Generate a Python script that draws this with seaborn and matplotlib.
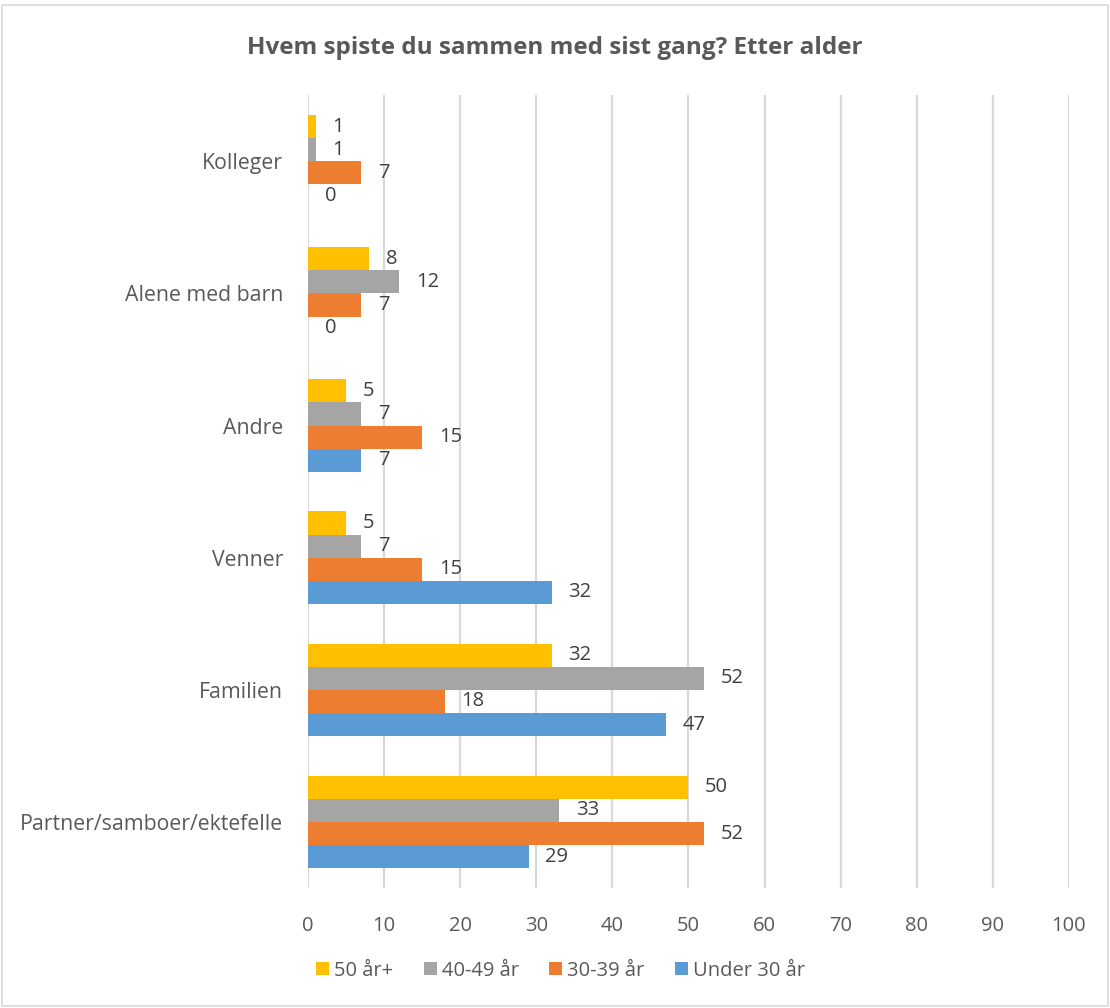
import matplotlib
matplotlib.use("Agg")
import matplotlib.pyplot as plt
from matplotlib.patches import Rectangle
import seaborn as sns
import pandas as pd

categories = ["Kolleger", "Alene med barn", "Andre", "Venner", "Familien",
              "Partner/samboer/ektefelle"]
groups = ["50 år+", "40-49 år", "30-39 år", "Under 30 år"]
vals_50_plus = [1, 8, 5, 5, 32, 50]
vals_40_49 = [1, 12, 7, 7, 52, 33]
vals_30_39 = [7, 7, 15, 15, 18, 52]
vals_under_30 = [0, 0, 7, 32, 47, 29]
colors = ["#FFC000", "#A5A5A5", "#ED7D31", "#5B9BD5"]

series = [vals_50_plus, vals_40_49, vals_30_39, vals_under_30]
rows = []
for g, vals in zip(groups, series):
    for c, v in zip(categories, vals):
        rows.append({"Kategori": c, "Alder": g, "Verdi": v})
df = pd.DataFrame(rows)

sns.set_theme(style="white")
plt.rcParams["font.family"] = ["Open Sans", "DejaVu Sans"]
text_col = "#595959"

fig = plt.figure(figsize=(11.1, 10.08), dpi=100)
ax = fig.add_axes([0.2775, 0.119, 0.6855, 0.7865])

sns.barplot(data=df, y="Kategori", x="Verdi", hue="Alder",
            order=categories, hue_order=groups, palette=colors,
            orient="h", width=0.7, dodge=True, ax=ax, legend=True,
            saturation=1, edgecolor="none", linewidth=0)

ax.set_xlim(0, 100)
ax.set_xticks(range(0, 101, 10))
ax.grid(axis="x", color="#D9D9D9", linewidth=1.6)
ax.set_axisbelow(True)
for s in ax.spines.values():
    s.set_visible(False)
ax.set_xlabel("")
ax.set_ylabel("")
ax.tick_params(axis="x", colors=text_col, labelsize=14.5, length=0, pad=20)
ax.tick_params(axis="y", colors=text_col, labelsize=15.3, length=0, pad=18)

for cont in ax.containers:
    labels = [f"{int(b.get_width())}" for b in cont]
    ax.bar_label(cont, labels=labels, padding=12, fontsize=14.5, color="#404040")

handles, labs = ax.get_legend_handles_labels()
ax.legend_.remove()
fig.legend(handles, labs, loc="center", bbox_to_anchor=(0.505, 0.037), ncol=4,
           frameon=False, fontsize=14.5, labelcolor=text_col,
           handlelength=0.65, handleheight=0.65, handletextpad=0.25,
           columnspacing=1.5)

fig.text(0.5, 0.952, "Hvem spiste du sammen med sist gang? Etter alder",
         ha="center", va="center", fontsize=17.5, fontweight="bold", color=text_col)

fig.patches.append(Rectangle((0.002, 0.002), 0.996, 0.993, transform=fig.transFigure,
                             fill=False, edgecolor="#D9D9D9", linewidth=1.2))

fig.savefig("out.png", dpi=100)
